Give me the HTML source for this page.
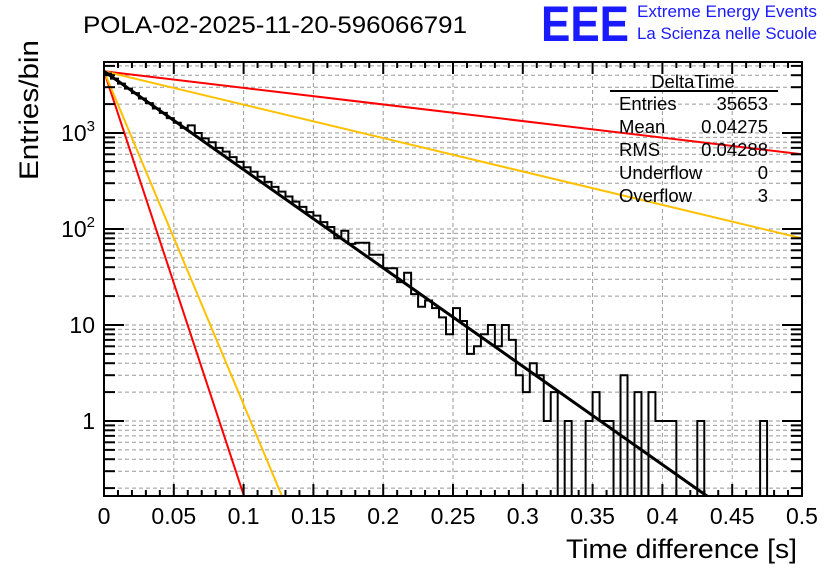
<!DOCTYPE html>
<html><head><meta charset="utf-8"><style>
body{margin:0;background:#fff;}
svg{display:block;font-family:"Liberation Sans",Arial,sans-serif;}
</style></head><body>
<svg id="chart" width="836" height="572" viewBox="0 0 836 572">
<rect x="0" y="0" width="836" height="572" fill="#fff"/>
<text x="83" y="33" font-size="24" textLength="384" lengthAdjust="spacingAndGlyphs">POLA-02-2025-11-20-596066791</text>
<text x="541" y="41" font-size="50" fill="#1a1aff" font-weight="bold" textLength="88" lengthAdjust="spacingAndGlyphs">EEE</text>
<text x="637" y="17" font-size="16.5" fill="#1a1aff" textLength="180" lengthAdjust="spacingAndGlyphs">Extreme Energy Events</text>
<text x="637" y="39" font-size="16.5" fill="#1a1aff" textLength="180" lengthAdjust="spacingAndGlyphs">La Scienza nelle Scuole</text>
<g id="grid"></g>
<g id="series"></g>
<g id="axes"></g>
<text transform="translate(38,180) rotate(-90)" font-size="27" textLength="140" lengthAdjust="spacingAndGlyphs">Entries/bin</text>
<text x="797" y="558" font-size="27" text-anchor="end" textLength="231" lengthAdjust="spacingAndGlyphs">Time difference [s]</text>
<g font-size="18.5">
<text x="693" y="88" text-anchor="middle">DeltaTime</text>
<line x1="610" y1="91" x2="778" y2="91" stroke="#000" stroke-width="2"/>
<text x="619" y="110">Entries</text><text x="768" y="110" text-anchor="end">35653</text>
<text x="619" y="133">Mean</text><text x="768" y="133" text-anchor="end">0.04275</text>
<text x="619" y="156">RMS</text><text x="768" y="156" text-anchor="end">0.04288</text>
<text x="619" y="179">Underflow</text><text x="768" y="179" text-anchor="end">0</text>
<text x="619" y="202">Overflow</text><text x="768" y="202" text-anchor="end">3</text>
</g>
</svg>
<script>
const binWidth = 0.005;
const counts = [4150,3690,3270,2900,2600,2290,2050,1800,1620,1430,1280,1130,1200,1000,880,800,700,640,560,500,440,395,350,310,275,245,218,193,170,150,138,118,105,
80,96,70,72,72,54,54,39,39,28,35,21,15.5,18,15,12,8,15,11,5,6,8,10,6,10,7,3,2,4,3,1,2,0,1,0,0,1,2,1,1,0,3,0,2,0,2,1,1,1,0,0,0,1,0,0,0,0,0,0,0,0,1,0,0,0,0,0];
const fitT = [0, 0.432];
const fitV = [4400, 0.165];
const redSlowT = [0, 0.5];
const redSlowV = [4400, 600];
const yelSlowT = [0, 0.5];
const yelSlowV = [4400, 80];
const redFastT = [0, 0.1003];
const redFastV = [4400, 0.165];
const yelFastT = [0, 0.1275];
const yelFastV = [4400, 0.165];
const xTicks = [0,0.05,0.1,0.15,0.2,0.25,0.3,0.35,0.4,0.45,0.5];
const xTickLabels = ["0","0.05","0.1","0.15","0.2","0.25","0.3","0.35","0.4","0.45","0.5"];
const yTicks = [1,10,100,1000];

const X0=104,X1=802,Y0=62,Y1=496;
const xmax=0.5;
function X(t){return X0+t/xmax*(X1-X0);}
function Y(v){return 421-96*Math.log10(v);}
function Yc(v){return v<=0?Y1:Math.max(Y0,Math.min(Y1,Y(v)));}
const NS="http://www.w3.org/2000/svg";
function mk(tag,attrs,parent){const e=document.createElementNS(NS,tag);for(const k in attrs)e.setAttribute(k,attrs[k]);parent.appendChild(e);return e;}
const grid=document.getElementById('grid'),series=document.getElementById('series'),axes=document.getElementById('axes');
const svg=document.getElementById('chart');
const defs=mk('defs',{},svg);
const cp=mk('clipPath',{id:'pc'},defs);mk('rect',{x:X0,y:Y0,width:X1-X0,height:Y1-Y0},cp);
series.setAttribute('clip-path','url(#pc)');
xTicks.forEach(t=>{if(t>0&&t<xmax){const l=mk('line',{x1:X(t),x2:X(t),y1:Y0,y2:Y1,stroke:'#999','stroke-dasharray':'4,3','stroke-width':1},grid);

}});
for(let d=-1;d<=3;d++){for(let m=1;m<=9;m++){const v=m*Math.pow(10,d);const y=Y(v);if(y>Y0&&y<Y1){const l=mk('line',{x1:X0,x2:X1,y1:y,y2:y,stroke:'#999','stroke-dasharray':'4,3','stroke-width':1},grid);

}}}
function fline(T,V,color,w,name){const l=mk('line',{x1:X(T[0]),y1:Y(V[0]),x2:X(T[1]),y2:Y(V[1]),stroke:color,'stroke-width':w},series);

}
fline(redSlowT,redSlowV,'#ff0000',2,'red-slow-line');
fline(yelSlowT,yelSlowV,'#ffc000',2,'yellow-slow-line');
fline(redFastT,redFastV,'#ff0000',2,'red-fast-line');
fline(yelFastT,yelFastV,'#ffc000',2,'yellow-fast-line');
let d='M'+X(0)+','+Y1;
counts.forEach((c,i)=>{const y=Yc(c);d+=' L'+X(i*binWidth)+','+y+' L'+X((i+1)*binWidth)+','+y;});
d+=' L'+X(counts.length*binWidth)+','+Y1;
const h=mk('path',{d:d,fill:'none',stroke:'#000','stroke-width':2},series);


fline(fitT,fitV,'#000',3,'exponential-fit');
const fr=mk('rect',{x:X0,y:Y0,width:X1-X0,height:Y1-Y0,fill:'none',stroke:'#000','stroke-width':2},axes);


for(let i=0;i<=50;i++){const t=i*0.01;const x=X(t);const len=(i%5===0)?12:6;
mk('line',{x1:x,x2:x,y1:Y1,y2:Y1-len,stroke:'#000','stroke-width':2},axes);
mk('line',{x1:x,x2:x,y1:Y0,y2:Y0+len,stroke:'#000','stroke-width':2},axes);}
xTicks.forEach((t,i)=>{const tx=mk('text',{x:X(t),y:524,'font-size':23,'text-anchor':'middle'},axes);tx.textContent=xTickLabels[i];

});
for(let dd=-1;dd<=3;dd++){for(let m=1;m<=9;m++){const v=m*Math.pow(10,dd);const y=Y(v);if(y>=Y0&&y<=Y1){const len=m===1?20:11;
mk('line',{x1:X0,x2:X0+len,y1:y,y2:y,stroke:'#000','stroke-width':2},axes);
mk('line',{x1:X1,x2:X1-len,y1:y,y2:y,stroke:'#000','stroke-width':2},axes);}}}
yTicks.forEach(v=>{const y=Y(v);const tx=mk('text',{x:95,y:y+8,'font-size':23,'text-anchor':'end'},axes);
if(v>=100){tx.textContent='10';const s=mk('tspan',{dy:-10,'font-size':15},tx);s.textContent=String(Math.round(Math.log10(v)));}
else tx.textContent=String(v);

});
</script>
</body></html>
